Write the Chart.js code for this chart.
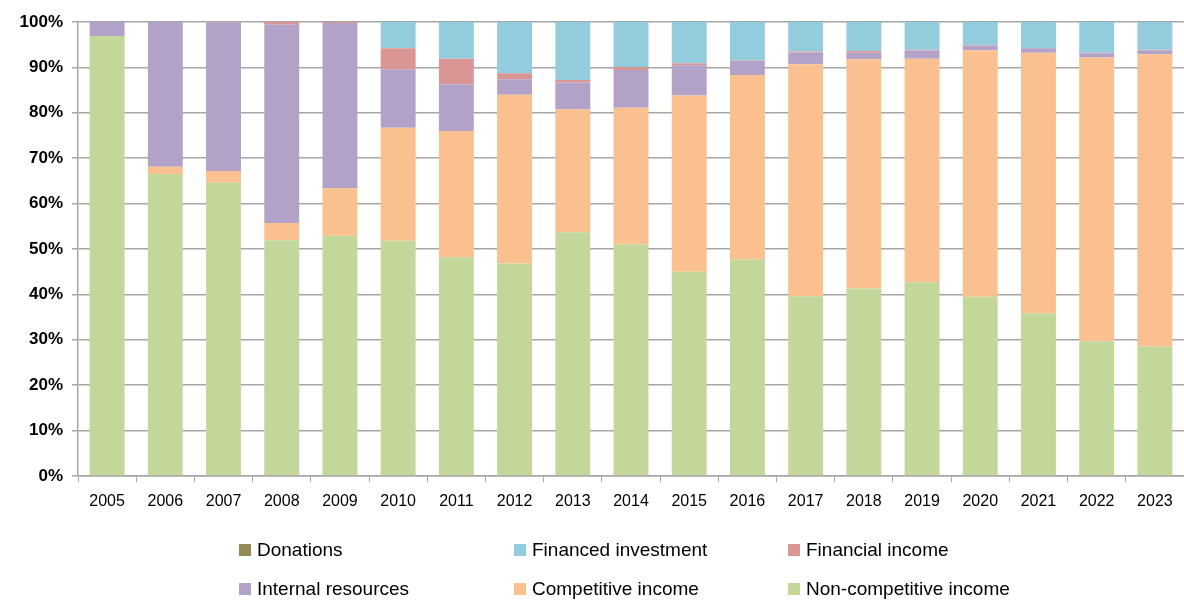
<!DOCTYPE html>
<html>
<head>
<meta charset="utf-8">
<script src="https://cdn.jsdelivr.net/npm/chart.js@4.4.1/dist/chart.umd.min.js"></script>
<style>
  html, body { margin: 0; padding: 0; background: #fff; }
</style>
</head>
<body>
<canvas id="grafico" width="1184" height="601"></canvas>
<script>
// Anos (categorias)
var years = ['2005', '2006', '2007', '2008', '2009', '2010', '2011', '2012', '2013', '2014',
  '2015', '2016', '2017', '2018', '2019', '2020', '2021', '2022', '2023'];

// Percentagens por fonte de receita
var nonCompetitive = [96.9, 66.5, 64.6, 51.9, 52.9, 51.8, 48.2, 46.8, 53.7, 51.0, 45.0, 47.7, 39.6, 41.3, 42.7, 39.5, 35.8, 29.7, 28.5];
var competitive = [0, 1.6, 2.6, 3.8, 10.5, 24.9, 27.8, 37.2, 27.1, 30.1, 38.8, 40.6, 51.1, 50.5, 49.2, 54.3, 57.4, 62.5, 64.4];
var internalRes = [3.1, 31.9, 32.7, 43.7, 36.4, 12.9, 10.3, 3.4, 5.9, 8.3, 6.7, 3.1, 2.6, 1.4, 1.8, 0.9, 1.0, 0.9, 0.9];
var financialIncome = [0, 0, 0.1, 0.6, 0.2, 4.6, 5.6, 1.3, 0.5, 0.7, 0.4, 0.1, 0.2, 0.4, 0.2, 0.1, 0.1, 0.1, 0.1];
var financedInvestment = [0, 0, 0, 0, 0, 5.8, 8.1, 11.3, 12.8, 9.9, 9.1, 8.5, 6.5, 6.4, 6.1, 5.2, 5.7, 6.8, 6.1];
var donations = [0, 0, 0, 0, 0, 0, 0, 0, 0, 0, 0, 0, 0, 0, 0, 0, 0, 0, 0];

var yTicks = [0, 10, 20, 30, 40, 50, 60, 70, 80, 90, 100];

// Séries (de baixo para cima)
var datasets = [
  { label: 'Non-competitive income', data: nonCompetitive, backgroundColor: '#c4d79b' },
  { label: 'Competitive income', data: competitive, backgroundColor: '#fac090' },
  { label: 'Internal resources', data: internalRes, backgroundColor: '#b3a2c7' },
  { label: 'Financial income', data: financialIncome, backgroundColor: '#d99694' },
  { label: 'Financed investment', data: financedInvestment, backgroundColor: '#93cddd' },
  { label: 'Donations', data: donations, backgroundColor: '#948a54' }
];
datasets.forEach(function (d) {
  d.barPercentage = 0.6;
  d.categoryPercentage = 1.0;
  d.borderWidth = 0;
});

// Legenda em grelha (3 colunas x 2 linhas), ordem inversa
var legendPlugin = {
  id: 'gridLegend',
  afterDraw: function (chart) {
    var ctx = chart.ctx;
    var items = chart.data.datasets.slice().reverse();
    var cols = [239, 514, 788];
    var rows = [550, 589];
    ctx.save();
    ctx.font = '19px "Liberation Sans", Arial, sans-serif';
    ctx.textBaseline = 'middle';
    ctx.fillStyle = '#000';
    items.forEach(function (ds, i) {
      var x = cols[i % 3];
      var y = rows[Math.floor(i / 3)];
      ctx.fillStyle = ds.backgroundColor;
      ctx.fillRect(x, y - 6, 12, 12);
      ctx.fillStyle = '#000';
      ctx.fillText(ds.label, x + 18, y + 1);
    });
    ctx.restore();
  }
};

var ctx = document.getElementById('grafico').getContext('2d');
new Chart(ctx, {
  type: 'bar',
  data: { labels: years, datasets: datasets },
  options: {
    responsive: false,
    animation: false,
    layout: { padding: { top: 22, right: 0, left: 0, bottom: 0 } },
    plugins: {
      legend: { display: false },
      tooltip: { enabled: false }
    },
    scales: {
      x: {
        stacked: true,
        offset: true,
        grid: {
          offset: true,
          drawOnChartArea: false,
          color: '#a6a6a6',
          tickLength: 6,
          lineWidth: 1
        },
        border: { color: '#a6a6a6', width: 1.5 },
        ticks: {
          color: '#000',
          padding: 10,
          maxRotation: 0,
          font: { family: '"Liberation Sans", Arial, sans-serif', size: 16 }
        },
        afterFit: function (scale) { scale.height = 125; }
      },
      y: {
        stacked: true,
        min: 0,
        max: 100,
        afterBuildTicks: function (scale) {
          scale.ticks = yTicks.map(function (v) { return { value: v }; });
        },
        grid: {
          color: '#a6a6a6',
          lineWidth: 1.5,
          tickLength: 6
        },
        border: { color: '#a6a6a6', width: 1.5 },
        ticks: {
          color: '#000',
          padding: 9,
          callback: function (v) { return v + '%'; },
          font: { family: '"Liberation Sans", Arial, sans-serif', size: 17, weight: 'bold' }
        },
        afterFit: function (scale) { scale.width = 78; }
      }
    }
  },
  plugins: [legendPlugin]
});
</script>
</body>
</html>
